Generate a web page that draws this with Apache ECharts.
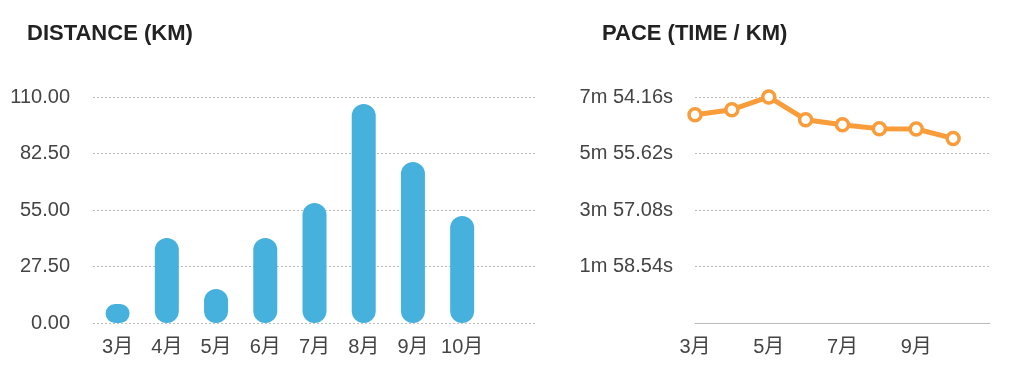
<!DOCTYPE html>
<html>
<head>
<meta charset="utf-8">
<script src="https://cdn.jsdelivr.net/npm/echarts@6/dist/echarts.min.js"></script>
<style>
html,body{margin:0;padding:0;background:#fff;}
#c{width:1022px;height:383px;}
</style>
</head>
<body>
<div id="c"></div>
<script>
// Categories (last slot is an empty category, as in the reference)
var months = ['3月','4月','5月','6月','7月','8月','9月','10月',''];
// Distance per month (km)
var distance = [9.2, 41.4, 16.5, 41.4, 58.4, 106.6, 78.4, 52.1];
// Pace per month (seconds per km)
var pace = [437.0, 447.5, 474.2, 426.5, 416.1, 407.7, 407.0, 387.3];
// Axis tick settings
var distMax = 110, distStep = 27.5;
var paceMax = 474.16, paceStep = 118.54;

var FONT = '"Liberation Sans", "Noto Sans CJK SC", sans-serif';
var labelStyle = {color: '#444', fontSize: 20, fontFamily: FONT};
var splitStyle = {show: true, lineStyle: {color: '#bbb', type: [2, 2], width: 1}};

function fmtPace(v) {
  if (v <= 0.001) return '';
  var m = Math.floor(v / 60 + 1e-9);
  var s = v - m * 60;
  return m + 'm ' + s.toFixed(2) + 's';
}

var chart = echarts.init(document.getElementById('c'), null, {renderer: 'canvas'});
chart.setOption({
  animation: false,
  title: [
    {text: 'DISTANCE (KM)', left: 22, top: 18,
     textStyle: {fontSize: 22, fontWeight: 'bold', color: '#222', fontFamily: FONT}},
    {text: 'PACE (TIME / KM)', left: 597, top: 18,
     textStyle: {fontSize: 22, fontWeight: 'bold', color: '#222', fontFamily: FONT}}
  ],
  grid: [
    {left: 93, right: 486, top: 97, bottom: 60, containLabel: false},
    {left: 695, right: 32, top: 97, bottom: 60, containLabel: false}
  ],
  xAxis: [
    {type: 'category', gridIndex: 0, data: months, boundaryGap: true,
     axisLine: {show: false}, axisTick: {show: false},
     axisLabel: Object.assign({margin: 14, interval: 0}, labelStyle)},
    {type: 'category', gridIndex: 1, data: months, boundaryGap: false,
     axisLine: {show: true, lineStyle: {color: '#bbb', width: 1}}, axisTick: {show: false},
     axisLabel: Object.assign({margin: 14, interval: 1}, labelStyle)}
  ],
  yAxis: [
    {type: 'value', gridIndex: 0, min: 0, max: distMax, interval: distStep,
     axisLine: {show: false}, axisTick: {show: false},
     axisLabel: Object.assign({margin: 23, formatter: function (v) { return v.toFixed(2); }}, labelStyle),
     splitLine: splitStyle},
    {type: 'value', gridIndex: 1, min: 0, max: paceMax, interval: paceStep,
     axisLine: {show: false}, axisTick: {show: false},
     axisLabel: Object.assign({margin: 22, formatter: fmtPace}, labelStyle),
     splitLine: {show: true, lineStyle: {color: '#bbb', type: [2, 2], width: 1}}
    }
  ],
  series: [
    {type: 'bar', xAxisIndex: 0, yAxisIndex: 0, data: distance, barWidth: 24,
     itemStyle: {color: '#47b1de', borderRadius: 12}},
    {type: 'line', xAxisIndex: 1, yAxisIndex: 1, data: pace,
     lineStyle: {color: '#f99d3b', width: 5},
     symbol: 'circle', symbolSize: 12,
     itemStyle: {color: '#fff', borderColor: '#f99d3b', borderWidth: 3.5}}
  ]
});
</script>
</body>
</html>
